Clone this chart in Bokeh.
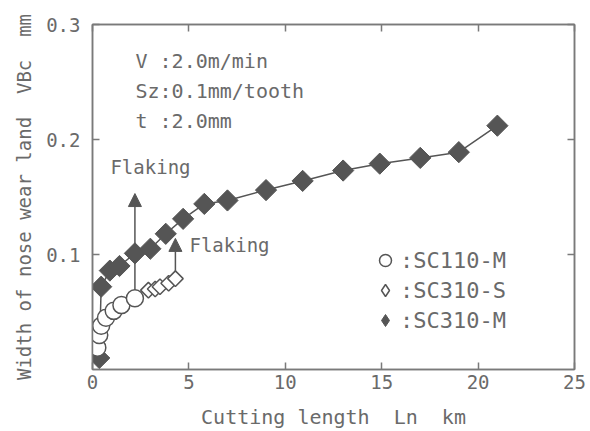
import numpy as np
from bokeh.plotting import figure
from bokeh.models import (Range1d, FixedTicker, LinearAxis, Legend, LegendItem, Arrow,
                          NormalHead, Label, ColumnDataSource, CustomJSTickFormatter)
from bokeh.embed import file_html
from bokeh.resources import INLINE

# ---- data ----
sc110m_x = [0.25, 0.35, 0.45, 0.7, 1.1, 1.5, 2.2]
sc110m_y = [0.019, 0.030, 0.038, 0.045, 0.051, 0.056, 0.062]
sc310s_x = [2.9, 3.25, 3.5, 3.95, 4.3]
sc310s_y = [0.069, 0.070, 0.072, 0.075, 0.079]
sc310m_x = [0.35, 0.45, 0.9, 1.4, 2.2, 3.0, 3.8, 4.7, 5.8, 7.0, 9.0, 10.9, 13.0, 14.9, 17.0, 19.0, 21.0]
sc310m_y = [0.010, 0.072, 0.086, 0.090, 0.101, 0.105, 0.118, 0.131, 0.144, 0.147, 0.156,
            0.164, 0.173, 0.179, 0.184, 0.189, 0.212]
flaking_x = [2.2, 4.3]
flaking_y_start = [0.062, 0.079]
flaking_y_end = [0.153, 0.114]
x_ticks = [0, 5, 10, 15, 20, 25]
y_ticks = [0.1, 0.2, 0.3]
conditions = ["V :2.0m/min", "Sz:0.1mm/tooth", "t :2.0mm"]
series_labels = [":SC110-M", ":SC310-S", ":SC310-M"]
NB = "\u00a0"
x_label = f"Cutting length{NB}{NB}Ln{NB}{NB}km"
y_label = f"Width of nose wear land{NB}{NB}VBc{NB}{NB}mm"

FONT = "DejaVu Sans Mono"
TXT = "#6a6a6a"
AX = "#7a7a7a"
DARK = "#555555"

p = figure(width=590, height=431, output_backend="svg", toolbar_location=None,
           x_range=Range1d(0, 25), y_range=Range1d(0, 0.3),
           min_border_left=92, min_border_right=16, min_border_top=24, min_border_bottom=62)
p.grid.visible = False
p.outline_line_color = AX
p.outline_line_width = 1.5
p.background_fill_color = "white"
p.border_fill_color = "white"

for ax in (p.xaxis[0], p.yaxis[0]):
    ax.axis_line_color = AX
    ax.axis_line_width = 1.5
    ax.major_tick_line_color = AX
    ax.major_tick_line_width = 1.5
    ax.major_tick_in = 7
    ax.major_tick_out = 0
    ax.minor_tick_line_color = None
    ax.major_label_text_font = FONT
    ax.major_label_text_color = TXT
    ax.axis_label_text_font = FONT
    ax.axis_label_text_color = TXT
    ax.axis_label_text_font_style = "normal"

p.xaxis.ticker = FixedTicker(ticks=x_ticks)
p.yaxis.ticker = FixedTicker(ticks=y_ticks)
p.xaxis.major_label_text_font_size = "19px"
p.yaxis.major_label_text_font_size = "19px"
p.xaxis.major_label_standoff = 5
p.yaxis.major_label_standoff = 12
p.xaxis.axis_label = x_label
p.yaxis.axis_label = y_label
p.xaxis.axis_label_text_font_size = "20px"
p.yaxis.axis_label_text_font_size = "19px"
p.xaxis.axis_label_standoff = 13
p.yaxis.axis_label_standoff = 8

empty = CustomJSTickFormatter(code="return ''")
top = LinearAxis(ticker=FixedTicker(ticks=x_ticks), formatter=empty)
right = LinearAxis(ticker=FixedTicker(ticks=y_ticks), formatter=empty)
for ax in (top, right):
    ax.axis_line_color = AX
    ax.axis_line_width = 1.5
    ax.major_tick_line_color = AX
    ax.major_tick_line_width = 1.5
    ax.major_tick_in = 7
    ax.major_tick_out = 0
    ax.minor_tick_line_color = None
    ax.major_label_standoff = 0
p.add_layout(top, "above")
p.add_layout(right, "right")

# arrows (flaking)
arr_src = ColumnDataSource(dict(x0=flaking_x, y0=flaking_y_start, x1=flaking_x, y1=flaking_y_end))
p.add_layout(Arrow(end=NormalHead(size=13, fill_color=DARK, line_color=DARK),
                   x_start="x0", y_start="y0", x_end="x1", y_end="y1", source=arr_src,
                   line_color=DARK, line_width=1.5, level="underlay"))

# series
p.line(sc310m_x, sc310m_y, line_color=DARK, line_width=1.5)
r_m = p.scatter(sc310m_x, sc310m_y, marker="square", angle=np.pi / 4, size=15,
                fill_color=DARK, line_color=DARK)
p.line(sc110m_x, sc110m_y, line_color=DARK, line_width=1.2)
r_c = p.scatter(sc110m_x, sc110m_y, marker="circle", size=17, fill_color="white",
                line_color=DARK, line_width=1.5)
p.line(sc310s_x, sc310s_y, line_color=DARK, line_width=1.2)
r_s = p.scatter(sc310s_x, sc310s_y, marker="square", angle=np.pi / 4, size=11,
                fill_color="white", line_color=DARK, line_width=1.5)

# legend proxies (legend glyphs are drawn unrotated, so use diamond marker)
nan = [float("nan")]
px_c = p.scatter(x=nan, y=nan, marker="circle", fill_color="white", line_color=DARK, line_width=1.5)
px_s = p.scatter(x=nan, y=nan, marker="diamond", fill_color="white", line_color=DARK, line_width=1.5)
px_m = p.scatter(x=nan, y=nan, marker="diamond", fill_color=DARK, line_color=DARK)
legend = Legend(items=[LegendItem(label=series_labels[0], renderers=[px_c]),
                       LegendItem(label=series_labels[1], renderers=[px_s]),
                       LegendItem(label=series_labels[2], renderers=[px_m])],
                location=(278, 34), glyph_width=30, glyph_height=30, spacing=0,
                padding=0, margin=0, label_standoff=0, label_height=30,
                label_text_font=FONT, label_text_font_size="22px", label_text_color=TXT,
                border_line_color=None, background_fill_alpha=0)
p.add_layout(legend)

# condition texts
for i, t in enumerate(conditions):
    p.add_layout(Label(x=2.23, y=0.2685 - i * 0.0262, text=t, text_font=FONT,
                       text_font_size="20px", text_color=TXT, text_baseline="alphabetic"))

p.add_layout(Label(x=0.93, y=0.1765, text="Flaking", text_font=FONT, text_font_size="19px",
                   text_color=TXT, text_baseline="alphabetic"))
p.add_layout(Label(x=5.03, y=0.108, text="Flaking", text_font=FONT, text_font_size="19px",
                   text_color=TXT, text_baseline="alphabetic"))

open("out.html", "w").write(file_html(p, INLINE))
